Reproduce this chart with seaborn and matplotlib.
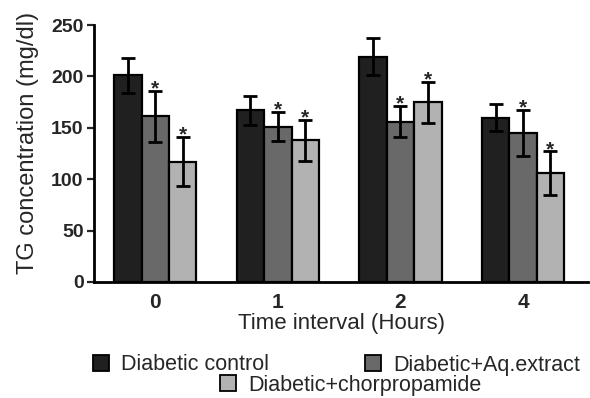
import matplotlib
matplotlib.use("Agg")
import matplotlib.pyplot as plt
import seaborn as sns
import pandas as pd
import numpy as np
from matplotlib.patches import Patch

# ---- data ----
times = ["0", "1", "2", "4"]
groups = ["Diabetic control", "Diabetic+Aq.extract", "Diabetic+chorpropamide"]
control_mean = [201, 167, 219, 160]
control_err = [17, 14, 18, 13]
aq_mean = [161, 151, 156, 145]
aq_err = [25, 14, 15, 22]
chlor_mean = [117, 138, 175, 106]
chlor_err = [24, 20, 20, 21]
aq_sig = [True, True, True, True]
chlor_sig = [True, True, True, True]
colors = ["#202020", "#696969", "#b2b2b2"]

means = [control_mean, aq_mean, chlor_mean]
errs = [control_err, aq_err, chlor_err]
sigs = [[False] * 4, aq_sig, chlor_sig]

rows = []
for g, m in zip(groups, means):
    for t, v in zip(times, m):
        rows.append({"time": t, "group": g, "value": v})
df = pd.DataFrame(rows)

sns.set_style("ticks")
plt.rcParams["font.family"] = ["Liberation Sans", "DejaVu Sans"]

fig = plt.figure(figsize=(5.9, 3.98), dpi=100)
ax = fig.add_axes([94 / 590, 1 - 282 / 398, 494 / 590, 257 / 398])

sns.barplot(data=df, x="time", y="value", hue="group", order=times,
            hue_order=groups, palette=colors, errorbar=None, width=0.67,
            gap=0, edgecolor="black", linewidth=1.6, ax=ax, legend=False)

for cont, e, s in zip(ax.containers, errs, sigs):
    xs = [p.get_x() + p.get_width() / 2 for p in cont.patches]
    ys = [p.get_height() for p in cont.patches]
    ax.errorbar(xs, ys, yerr=e, fmt="none", ecolor="black", elinewidth=2,
                capsize=5, capthick=2, zorder=5)
    for x, y, ee, sg in zip(xs, ys, e, s):
        if sg:
            ax.annotate("*", (x, y + ee), xytext=(0, -2.5), textcoords="offset points",
                        ha="center", va="baseline", fontsize=15, fontweight="bold")

ax.set_ylim(0, 250)
ax.set_xlim(-0.5, 3.53)
ax.set_yticks([0, 50, 100, 150, 200, 250])
ax.tick_params(axis="y", length=5, width=1.6, pad=2.5, labelsize=14)
ax.tick_params(axis="x", length=0, pad=8, labelsize=15)
for lab in ax.get_yticklabels() + ax.get_xticklabels():
    lab.set_fontweight("bold")
for sp in ["top", "right"]:
    ax.spines[sp].set_visible(False)
for sp in ["left", "bottom"]:
    ax.spines[sp].set_linewidth(2)
    ax.spines[sp].set_color("black")

ax.set_ylabel("TG concentration (mg/dl)", fontsize=17)
ax.yaxis.set_label_coords(-0.112, 0.54)
ax.set_xlabel("Time interval (Hours)", fontsize=16, va="top")
ax.xaxis.set_label_coords(0.5, -0.12)

handles = [Patch(facecolor=c, edgecolor="black", linewidth=1.3) for c in colors]
positions = [(93 / 590, 1 - 365 / 398), (365 / 590, 1 - 365 / 398), (220 / 590, 1 - 385 / 398)]
for h, g, pos in zip(handles, groups, positions):
    fig.legend([h], [g], loc="center left", bbox_to_anchor=pos, frameon=False,
               fontsize=15.5, handlelength=0.72, handleheight=0.72,
               handletextpad=0.6, borderpad=0, borderaxespad=0)

fig.savefig("out.png", dpi=100)
